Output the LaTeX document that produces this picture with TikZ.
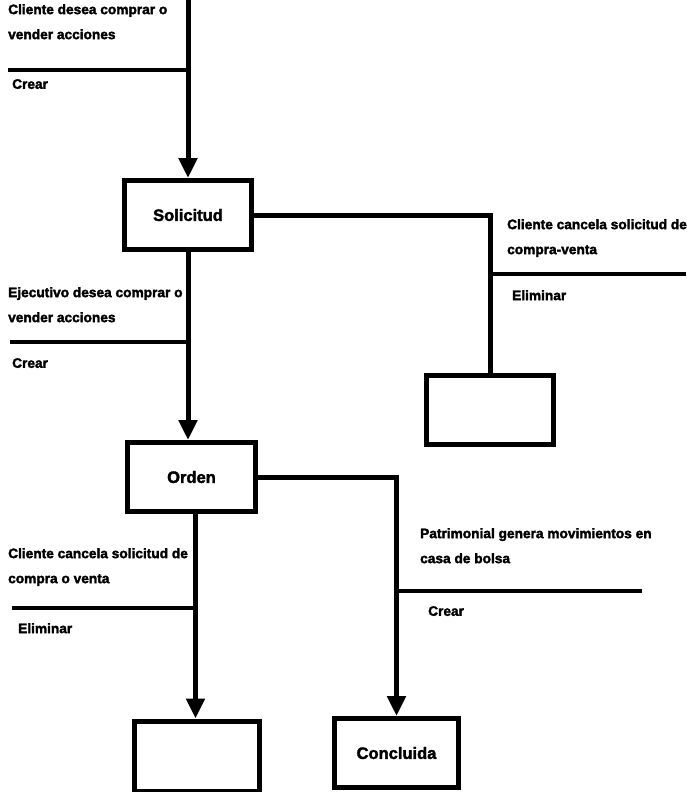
\documentclass[tikz,border=0pt]{standalone}
\usepackage{fontspec}
\setmainfont{Liberation Sans}[FakeBold=2.2]
\usetikzlibrary{arrows.meta,calc}
\begin{document}
\begin{tikzpicture}[x=1pt,y=-1pt,
  statebox/.style={draw,line width=5pt,minimum width=127pt,minimum height=69pt,inner sep=0pt,
    font=\bfseries\fontsize{16.5}{18}\selectfont},
  flow/.style={line width=5pt,-{Triangle[width=18pt,length=20pt]}},
  link/.style={line width=5pt},
  sep/.style={line width=3.5pt},
  event/.style={anchor=north west,align=left,inner sep=0pt,
    font=\bfseries\fontsize{13.7}{25}\selectfont},
  action/.style={anchor=north west,inner sep=0pt,font=\bfseries\fontsize{13.7}{15}\selectfont}]
\useasboundingbox (0,0) rectangle (686,792);

% states
\node[statebox] (sol) at (188,215) {Solicitud};
\node[statebox] (elim1) at (490,410) {};
\node[statebox,minimum width=128pt] (ord) at (191.5,477) {Orden};
\node[statebox,minimum width=125pt,minimum height=70pt] (elim2) at (197,756) {};
\node[statebox,minimum width=124pt] (concl) at (396.5,753) {Concluida};

% creation of the request
\coordinate (start) at (188,0);
\draw[flow] (start) -- (sol.north);
\node[event] (ev1) at (8,4) {Cliente desea comprar o\\vender acciones};
\coordinate (s1a) at (8,70);
\coordinate (s1b) at (188,70);
\draw[sep] (s1a) -- (s1b);
\node[action] (ac1) at (12,79) {Crear};

% cancellation of the request
\draw[link] (sol.east) -| (elim1.north);
\node[event] (ev2) at (507,219) {Cliente cancela solicitud de\\compra-venta};
\coordinate (s2a) at (489,274);
\coordinate (s2b) at (686,274);
\draw[sep] (s2a) -- (s2b);
\node[action] (ac2) at (512,290) {Eliminar};

% request becomes an order
\draw[flow] (sol.south) -- (sol.south |- ord.north);
\node[event] (ev3) at (8,287) {Ejecutivo desea comprar o\\vender acciones};
\coordinate (s3a) at (10,342);
\coordinate (s3b) at (190,342);
\draw[sep] (s3a) -- (s3b);
\node[action] (ac3) at (12,358) {Crear};

% order concluded
\draw[flow] (ord.east) -| (concl.north);
\node[event] (ev4) at (420,528) {Patrimonial genera movimientos en\\casa de bolsa};
\coordinate (s4a) at (396,591);
\coordinate (s4b) at (642,591);
\draw[sep] (s4a) -- (s4b);
\node[action] (ac4) at (428,606) {Crear};

% order cancelled
\coordinate (ordout) at ($(ord.south)+(4,0)$);
\draw[flow] (ordout) -- (ordout |- elim2.north);
\node[event] (ev5) at (8,548) {Cliente cancela solicitud de\\compra o venta};
\coordinate (s5a) at (12,608);
\coordinate (s5b) at (196,608);
\draw[sep] (s5a) -- (s5b);
\node[action] (ac5) at (18,623) {Eliminar};
\end{tikzpicture}
\end{document}
